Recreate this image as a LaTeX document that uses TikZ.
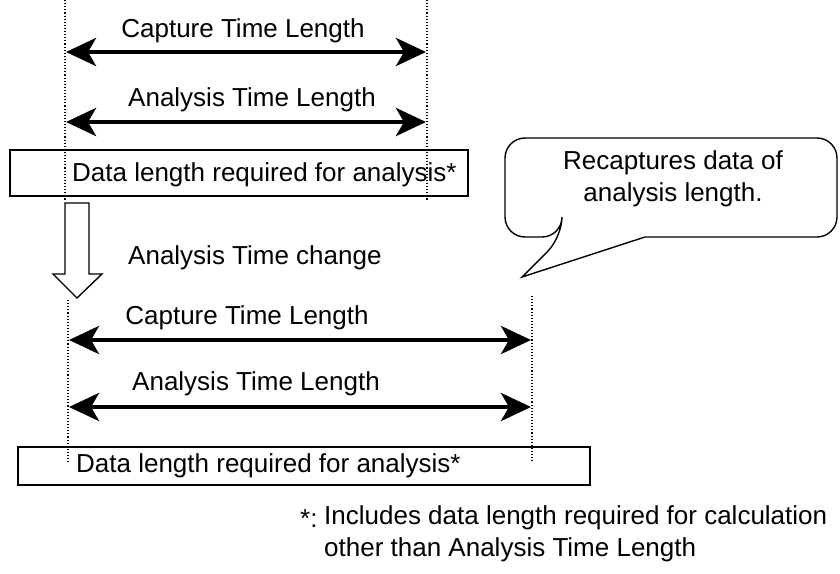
\documentclass[tikz,border=0pt]{standalone}
\usepackage{fontspec}
\setmainfont{Liberation Sans}
\usetikzlibrary{arrows.meta}
\begin{document}
\begin{tikzpicture}[x=1pt,y=-1pt,
  lbl/.style={inner sep=0pt,font=\fontsize{26}{32}\selectfont},
  guide/.style={dotted,line width=1.1pt},
  span/.style={line width=4.6pt,{Stealth[length=30pt,width=28pt,inset=8pt]}-{Stealth[length=30pt,width=28pt,inset=8pt]}},
  outline/.style={line width=1.4pt}]
\useasboundingbox (0,0) rectangle (840,573);
% top guides
\coordinate (tl0) at (65,0); \coordinate (tl1) at (65,200);
\coordinate (tr0) at (427,0); \coordinate (tr1) at (427,200);
% top arrows
\node[lbl] (cap1) at (243,31) {Capture Time Length};
\coordinate (c1a) at (66,52); \coordinate (c1b) at (426,52);
\draw[span] (c1a) -- (c1b);
\node[lbl] (ana1) at (252,100) {Analysis Time Length};
\coordinate (a1a) at (66,122); \coordinate (a1b) at (426,122);
\draw[span] (a1a) -- (a1b);
% top box
\draw[outline] (10,150) rectangle (468,196);
\node[lbl,anchor=west] (data1) at (72,175) {Data length required for analysis*};
\draw[guide] (tl0) -- (tl1);
\draw[guide] (tr0) -- (tr1);
% hollow arrow
\draw[outline,fill=white] (65,203) -- (89,203) -- (89,274) -- (102,274) -- (77,298) -- (53,274) -- (65,274) -- cycle;
\node[lbl,anchor=west] (chg) at (128,258) {Analysis Time change};
% bubble
\draw[outline,fill=white] (562,237) -- (522,277) -- (645,237) [rounded corners=20] -- (837,237) -- (837,138) -- (505,138) -- (505,237) -- (562,237) -- cycle;
\node[lbl,align=center] (bub) at (673,179) {Recaptures data of\\analysis length.};
% lower guides
\coordinate (bl0) at (68,300); \coordinate (bl1) at (68,462);
\coordinate (br0) at (532,296); \coordinate (br1) at (532,462);
\node[lbl] (cap2) at (247,318) {Capture Time Length};
\coordinate (c2a) at (69,340); \coordinate (c2b) at (531,340);
\draw[span] (c2a) -- (c2b);
\node[lbl] (ana2) at (256,384) {Analysis Time Length};
\coordinate (a2a) at (69,407); \coordinate (a2b) at (531,407);
\draw[span] (a2a) -- (a2b);
\draw[outline] (18,447) rectangle (590,485);
\node[lbl,anchor=west] (data2) at (76,466) {Data length required for analysis*};
\draw[guide] (bl0) -- (bl1);
\draw[guide] (br0) -- (br1);
% footnote
\node[lbl,anchor=west] (star) at (300,519) {*:};
\node[lbl,anchor=west,align=left] (note) at (324,534) {Includes data length required for calculation\\other than Analysis Time Length};
\end{tikzpicture}
\end{document}
